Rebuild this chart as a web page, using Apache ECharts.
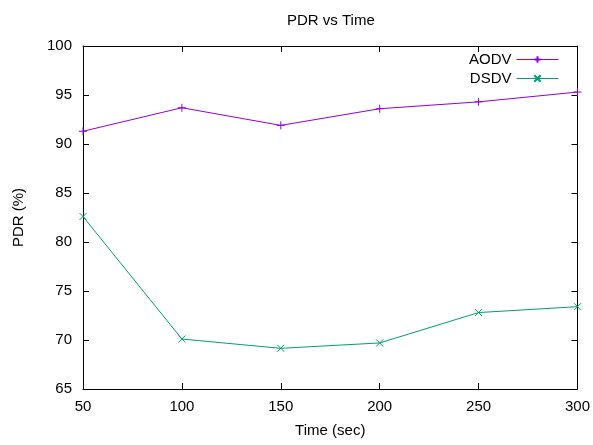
<!DOCTYPE html>
<html>
<head>
<meta charset="utf-8">
<script src="https://cdn.jsdelivr.net/npm/echarts@6/dist/echarts.min.js"></script>
<style>
  html, body { margin: 0; padding: 0; background: #fff; }
  #chart { width: 593px; height: 445px; }
</style>
</head>
<body>
<div id="chart"></div>
<script>
// Simulation time (sec) and packet delivery ratio (%) per protocol
var times = [50, 100, 150, 200, 250, 300];
var aodvPdr = [91.3, 93.7, 91.9, 93.6, 94.3, 95.3];
var dsdvPdr = [82.6, 70.1, 69.15, 69.7, 72.8, 73.4];

var FONT = '"Liberation Sans", Arial, sans-serif';
var FS = 15;
var PLUS = 'path://M0,5L10,5M5,0L5,10';
var CROSS = 'path://M0,0L10,10M10,0L0,10';

function pairs(xs, ys) {
  return xs.map(function (x, i) { return [x, ys[i]]; });
}

// Boxed frame: every side carries inward ticks, only bottom/left are labelled
function frameAxis(pos, isX) {
  return {
    type: 'value',
    position: pos,
    min: isX ? 50 : 65,
    max: isX ? 300 : 100,
    interval: isX ? 50 : 5,
    axisLine: { show: true, onZero: false, lineStyle: { color: '#000', width: 1 } },
    axisTick: { show: true, inside: true, length: 6, lineStyle: { color: '#000' } },
    splitLine: { show: false },
    axisLabel: { show: false }
  };
}

var chart = echarts.init(document.getElementById('chart'), null, { renderer: 'canvas' });

var xMain = frameAxis('bottom', true);
xMain.name = 'Time (sec)';
xMain.nameLocation = 'middle';
xMain.nameGap = 34;
xMain.nameTextStyle = { fontFamily: FONT, fontSize: FS, color: '#000' };
xMain.axisLabel = { show: true, fontFamily: FONT, fontSize: FS, color: '#000', margin: 10 };

var yMain = frameAxis('left', false);
yMain.name = 'PDR (%)';
yMain.nameLocation = 'middle';
yMain.nameGap = 57;
yMain.nameTextStyle = { fontFamily: FONT, fontSize: FS, color: '#000' };
yMain.axisLabel = { show: true, fontFamily: FONT, fontSize: FS, color: '#000', margin: 11 };

var xTop = frameAxis('top', true);
var yRight = frameAxis('right', false);

chart.setOption({
  animation: false,
  backgroundColor: '#fff',
  title: {
    text: 'PDR vs Time',
    left: 282, top: 8,
    textStyle: { fontFamily: FONT, fontSize: FS, fontWeight: 'normal', color: '#000' }
  },
  legend: {
    orient: 'vertical',
    right: 29, top: 47,
    align: 'right',
    itemWidth: 42, itemHeight: 8,
    itemGap: 4,
    lineStyle: { width: 1 },
    textStyle: { fontFamily: FONT, fontSize: FS, color: '#000' },
    data: ['AODV', 'DSDV']
  },
  grid: { left: 83, right: 13, top: 46, bottom: 56 },
  xAxis: [xMain, xTop],
  yAxis: [yMain, yRight],
  series: [
    {
      name: 'AODV', type: 'line',
      data: pairs(times, aodvPdr),
      symbol: PLUS, symbolSize: 8,
      lineStyle: { color: '#9400d3', width: 1 },
      itemStyle: { color: '#9400d3', borderColor: '#9400d3', borderWidth: 1 }
    },
    {
      name: 'DSDV', type: 'line',
      data: pairs(times, dsdvPdr),
      symbol: CROSS, symbolSize: 7,
      lineStyle: { color: '#009e73', width: 1 },
      itemStyle: { color: '#009e73', borderColor: '#009e73', borderWidth: 1 }
    }
  ]
});
</script>
</body>
</html>
